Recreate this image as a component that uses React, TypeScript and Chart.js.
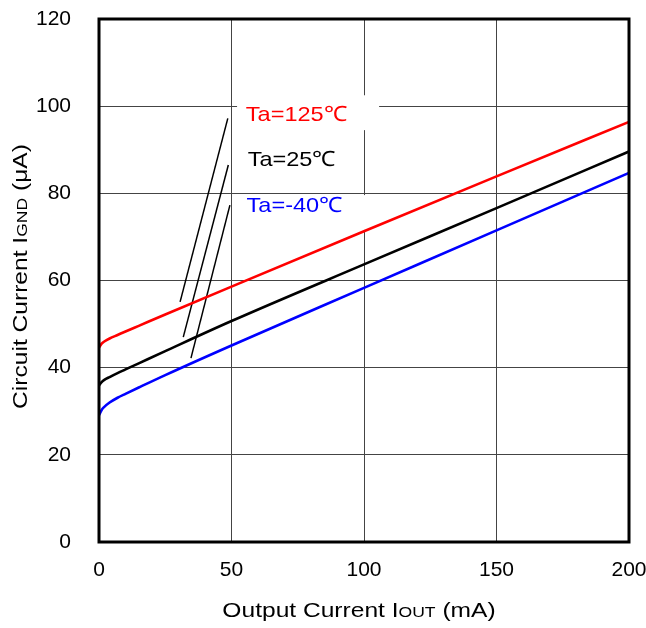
import { useEffect, useRef } from "react";
import { Chart, registerables } from "chart.js";

Chart.register(...registerables);

// ---- data ----
const iout = [0, 1, 2, 4, 7, 10, 15, 25, 50, 100, 150, 200];
const ignd125 = [44.6, 45.5, 46.0, 46.7, 47.5, 48.3, 49.6, 52.2, 58.6, 71.3, 83.9, 96.4];
const ignd25 = [35.9, 36.7, 37.2, 37.85, 38.75, 39.6, 41.0, 43.8, 50.7, 63.7, 76.6, 89.6];
const igndM40 = [29.1, 30.3, 31.0, 32.0, 33.1, 34.0, 35.45, 38.3, 45.1, 58.3, 71.5, 84.7];

const seriesLabels = ["Ta=125℃", "Ta=25℃", "Ta=-40℃"];
const seriesColors = ["#ff0000", "#000000", "#0000ff"];

// leader lines (data units)
const leaderX = [
  [30.6, 48.6],
  [31.8, 48.8],
  [34.7, 49.4],
];
const leaderY = [
  [55.1, 97.2],
  [47.0, 86.5],
  [42.2, 77.3],
];

const xTitle = ["Output Current I", "OUT", " (mA)"];
const yTitle = ["Circuit Current I", "GND", " (μA)"];

// ---- layout / style (not data) ----
const FAMILY = '"Liberation Sans", Arial, Helvetica, sans-serif';
const LABEL_STRETCH = 1.12;
const TITLE_STRETCH = 1.17;
const labelPos = [
  { x: 55.4, y: 96.6, box: { x0: 52.1, x1: 105.7, y0: 94.5, y1: 102.5 } },
  { x: 56.1, y: 86.3, box: null },
  { x: 55.7, y: 75.7, box: { x0: 52.1, x1: 105.7, y0: 71.6, y1: 79.6 } },
];

type Run = { text: string; size: number; color?: string };

function drawRuns(
  ctx: CanvasRenderingContext2D,
  runs: Run[],
  x: number,
  y: number,
  align: "left" | "center",
  stretch: number
) {
  let w = 0;
  for (const r of runs) {
    ctx.font = `${r.size}px ${FAMILY}`;
    w += ctx.measureText(r.text).width;
  }
  w *= stretch;
  const sx = align === "center" ? x - w / 2 : x;
  ctx.save();
  ctx.translate(sx, y);
  ctx.scale(stretch, 1);
  ctx.textAlign = "left";
  ctx.textBaseline = "alphabetic";
  let ox = 0;
  for (const r of runs) {
    ctx.font = `${r.size}px ${FAMILY}`;
    ctx.fillStyle = r.color || "#000";
    ctx.fillText(r.text, ox, 0);
    ox += ctx.measureText(r.text).width;
  }
  ctx.restore();
}

const decorPlugin = {
  id: "decor",
  beforeDatasetsDraw(chart: any) {
    const ctx: CanvasRenderingContext2D = chart.ctx;
    const xs = chart.scales.x;
    const ys = chart.scales.y;
    labelPos.forEach((p) => {
      if (!p.box) return;
      const l = xs.getPixelForValue(p.box.x0);
      const r = xs.getPixelForValue(p.box.x1);
      const t = ys.getPixelForValue(p.box.y1);
      const b = ys.getPixelForValue(p.box.y0);
      ctx.save();
      ctx.fillStyle = "#ffffff";
      ctx.fillRect(l, t, r - l, b - t);
      ctx.restore();
    });
  },
  afterDatasetsDraw(chart: any) {
    const ctx: CanvasRenderingContext2D = chart.ctx;
    const xs = chart.scales.x;
    const ys = chart.scales.y;
    labelPos.forEach((p, i) => {
      drawRuns(
        ctx,
        [{ text: seriesLabels[i], size: 21, color: seriesColors[i] }],
        xs.getPixelForValue(p.x),
        ys.getPixelForValue(p.y),
        "left",
        LABEL_STRETCH
      );
    });
  },
  afterDraw(chart: any) {
    const ctx: CanvasRenderingContext2D = chart.ctx;
    const a = chart.chartArea;
    ctx.save();
    ctx.strokeStyle = "#000";
    ctx.lineWidth = 3;
    ctx.strokeRect(a.left, a.top, a.right - a.left, a.bottom - a.top);
    ctx.restore();
    drawRuns(
      ctx,
      [
        { text: xTitle[0], size: 21 },
        { text: xTitle[1], size: 15 },
        { text: xTitle[2], size: 21 },
      ],
      (a.left + a.right) / 2 - 5,
      617,
      "center",
      TITLE_STRETCH
    );
    ctx.save();
    ctx.translate(27, (a.top + a.bottom) / 2 - 4);
    ctx.rotate(-Math.PI / 2);
    drawRuns(
      ctx,
      [
        { text: yTitle[0], size: 21 },
        { text: yTitle[1], size: 15 },
        { text: yTitle[2], size: 21 },
      ],
      0,
      0,
      "center",
      TITLE_STRETCH
    );
    ctx.restore();
  },
};

function zeroPad(s: any) {
  s.paddingTop = 0;
  s.paddingBottom = 0;
  s.paddingLeft = 0;
  s.paddingRight = 0;
}

export default function App() {
  const ref = useRef<HTMLCanvasElement | null>(null);
  useEffect(() => {
    if (!ref.current) return;
    const toXY = (ys: number[]) => iout.map((x, i) => ({ x, y: ys[i] }));
    const curves = [ignd125, ignd25, igndM40].map((ys, i) => ({
      label: seriesLabels[i],
      data: toXY(ys),
      borderColor: seriesColors[i],
      backgroundColor: seriesColors[i],
      borderWidth: 2.6,
      pointRadius: 0,
      cubicInterpolationMode: "monotone" as const,
      fill: false,
    }));
    const leaders = leaderX.map((xs, i) => ({
      label: "leader" + i,
      data: xs.map((x, j) => ({ x, y: leaderY[i][j] })),
      borderColor: "#000",
      borderWidth: 1.5,
      pointRadius: 0,
      tension: 0,
      fill: false,
    }));
    const tickFont = { family: FAMILY, size: 21 };
    const chart = new Chart(ref.current, {
      type: "line",
      data: { datasets: [...curves, ...leaders] as any },
      options: {
        responsive: false,
        animation: false,
        layout: { padding: { top: 19, right: 17, bottom: 0, left: 0 } },
        plugins: { legend: { display: false }, tooltip: { enabled: false } },
        scales: {
          x: {
            type: "linear",
            min: 0,
            max: 200,
            ticks: { stepSize: 50, font: tickFont, color: "#000", padding: 16, maxRotation: 0 },
            grid: { color: "#444", lineWidth: 1, drawTicks: false },
            border: { display: false },
            afterFit: (s: any) => {
              s.height = 86;
              zeroPad(s);
            },
          },
          y: {
            type: "linear",
            min: 0,
            max: 120,
            ticks: { stepSize: 20, font: tickFont, color: "#000", padding: 28 },
            grid: { color: "#444", lineWidth: 1, drawTicks: false },
            border: { display: false },
            afterFit: (s: any) => {
              s.width = 99;
              zeroPad(s);
            },
          },
        },
      },
      plugins: [decorPlugin],
    });
    return () => chart.destroy();
  }, []);
  return (
    <div style={{ position: "fixed", left: 0, top: 0, width: 646, height: 628, background: "#fff" }}>
      <canvas ref={ref} width={646} height={628} style={{ display: "block" }} />
    </div>
  );
}
